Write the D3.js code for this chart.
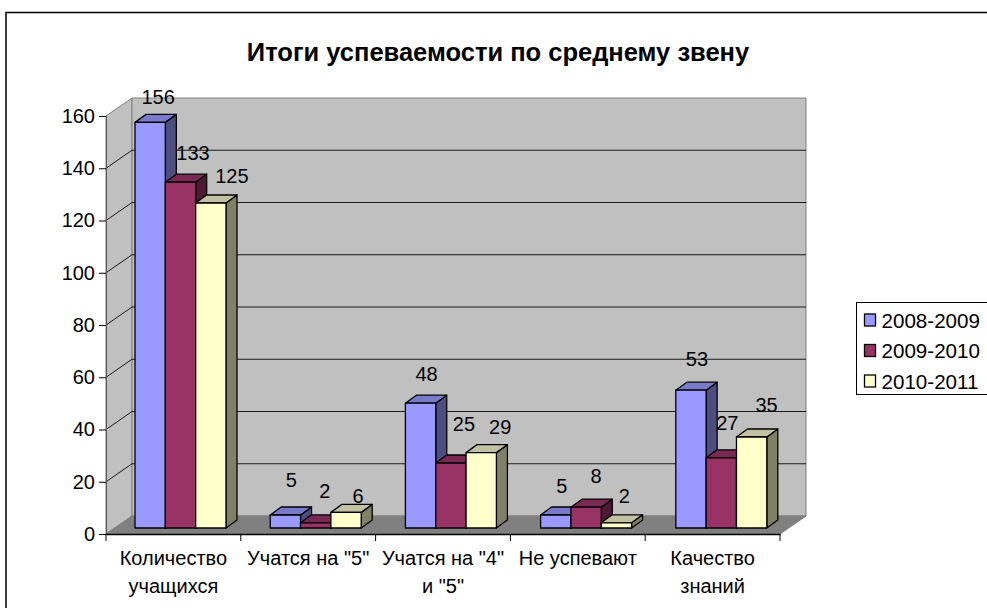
<!DOCTYPE html>
<html><head><meta charset="utf-8">
<script src="https://cdn.jsdelivr.net/npm/d3@7"></script>
<style>html,body{margin:0;background:#fff}svg{display:block}text{font-family:"Liberation Sans",Arial,sans-serif;fill:#000}</style>
</head><body><svg id="c" width="987" height="608"></svg>
<script>
const title = "Итоги успеваемости по среднему звену";
const categories = ["Количество\nучащихся", "Учатся на \"5\"", "Учатся на \"4\"\nи \"5\"", "Не успевают", "Качество\nзнаний"];
const seriesNames = ["2008-2009", "2009-2010", "2010-2011"];
const values0809 = [156, 5, 48, 5, 53];
const values0910 = [133, 2, 25, 8, 27];
const values1011 = [125, 6, 29, 2, 35];
const seriesValues = [values0809, values0910, values1011];
const yTicks = [0, 20, 40, 60, 80, 100, 120, 140, 160];

// hand-placed data label nudges in the reference, relative to each bar's top centre
const labelNudge = [
  [[8,-25],[6,-35],[6,-29],[6,-29],[6,-31]],
  [[12.5,-29],[9,-32],[13,-39],[10,-31],[6,-35]],
  [[21,-27],[12,-16],[19,-26],[8,-27],[15,-32]]
];

const faces = [
  {front:"#9999ff", top:"#7a7acc", side:"#4d4d80"},
  {front:"#993366", top:"#7a2952", side:"#4d1a33"},
  {front:"#ffffcc", top:"#c2c2a3", side:"#808066"}
];

const svg = d3.select("#c");
const m = {left:106, right:780, top:116, bottom:534};
const wall = {dx:26, dy:-18};
const bar = {dx:11, dy:-8};

const x = d3.scaleBand().domain(categories).range([m.left, m.right]);
const y = d3.scaleLinear().domain([0,160]).range([m.bottom, m.top]);
// the bars stand in a plane slightly inside the walls, so they scale a little differently
const xBar = d3.scaleBand().domain(categories).range([m.left, 782]);
const yBar = d3.scaleLinear().domain([0,160]).range([528, 112]);
const sub = d3.scaleBand().domain(d3.range(3)).range([29, 120]);

// frame (its right and bottom edges lie beyond the picture)
svg.append("rect").attr("x",6).attr("y",12.5).attr("width",1000).attr("height",640)
  .attr("fill","#fff").attr("stroke","#000").attr("stroke-width",1.5);

svg.append("text").attr("x",498).attr("y",61).attr("text-anchor","middle")
  .attr("font-size",25.5).attr("font-weight","bold").text(title);

const pts = a => a.map(p=>p.join(",")).join(" ");
const L=m.left,R=m.right,T=m.top,B=m.bottom,dx=wall.dx,dy=wall.dy;
// walls + floor
svg.append("polygon").attr("points",pts([[L,B],[L,T],[L+dx,T+dy],[L+dx,B+dy]])).attr("fill","#c0c0c0").attr("stroke","#808080");
svg.append("polygon").attr("points",pts([[L+dx,T+dy],[R+dx,T+dy],[R+dx,B+dy],[L+dx,B+dy]])).attr("fill","#c0c0c0").attr("stroke","#808080");
svg.append("polygon").attr("points",pts([[L,B],[R,B],[R+dx,B+dy],[L+dx,B+dy]])).attr("fill","#808080").attr("stroke","#808080");
// gridlines
yTicks.filter(t=>t>0 && t<160).forEach(t=>{
  svg.append("polyline").attr("points",pts([[L,y(t)],[L+dx,y(t)+dy],[R+dx,y(t)+dy]]))
    .attr("fill","none").attr("stroke","#1a1a1a").attr("stroke-width",1);
});

// axes
const gy = svg.append("g").attr("transform",`translate(${L},0)`)
  .call(d3.axisLeft(y).tickValues(yTicks).tickSize(7).tickPadding(4));
gy.select(".domain").attr("stroke","#555");
gy.selectAll("text").attr("font-size",20).attr("font-family",null);
const gx = svg.append("g").attr("transform",`translate(0,${B})`)
  .call(d3.axisBottom(x).tickSize(0).tickFormat(""));
gx.select(".domain").attr("stroke","#000").attr("stroke-width",1.5);
svg.selectAll(".xt").data(d3.range(categories.length+1)).join("line")
  .attr("x1",i=>L+i*x.bandwidth()).attr("x2",i=>L+i*x.bandwidth()).attr("y1",B).attr("y2",B+7).attr("stroke","#000");
categories.forEach(c=>{
  const t = svg.append("text").attr("text-anchor","middle").attr("font-size",20);
  c.split("\n").forEach((line,i)=>t.append("tspan").attr("x",x(c)+x.bandwidth()/2).attr("y",565+i*28).text(line));
});

// bars
categories.forEach((c,ci)=>{
  seriesValues.forEach((vals,si)=>{
    const v = vals[ci], f = faces[si];
    const x0 = xBar(c)+sub(si), w = sub.bandwidth(), base = yBar(0), top = yBar(v);
    const g = svg.append("g").attr("stroke","#000").attr("stroke-width",1.3).attr("stroke-linejoin","round");
    g.append("polygon").attr("points",pts([[x0+w,base],[x0+w,top],[x0+w+bar.dx,top+bar.dy],[x0+w+bar.dx,base+bar.dy]])).attr("fill",f.side);
    g.append("polygon").attr("points",pts([[x0,top],[x0+w,top],[x0+w+bar.dx,top+bar.dy],[x0+bar.dx,top+bar.dy]])).attr("fill",f.top);
    g.append("rect").attr("x",x0).attr("y",top).attr("width",w).attr("height",base-top).attr("fill",f.front);
  });
});
// data labels
categories.forEach((c,ci)=>{
  seriesValues.forEach((vals,si)=>{
    const v=vals[ci], n=labelNudge[si][ci];
    svg.append("text").attr("text-anchor","middle").attr("dominant-baseline","central")
      .attr("x",xBar(c)+sub(si)+sub.bandwidth()/2+n[0]).attr("y",yBar(v)+n[1]).attr("font-size",20).text(v);
  });
});

// legend
svg.append("rect").attr("x",856.5).attr("y",302.5).attr("width",131).attr("height",92).attr("fill","#fff").attr("stroke","#000");
seriesNames.forEach((s,i)=>{
  const ly = 320+i*30.5;
  svg.append("rect").attr("x",864.5).attr("y",ly-6).attr("width",11).attr("height",12).attr("fill",faces[i].front).attr("stroke","#000").attr("stroke-width",1.3);
  svg.append("text").attr("x",881.5).attr("y",ly).attr("dominant-baseline","central").attr("font-size",20.6).text(s);
});
</script></body></html>
